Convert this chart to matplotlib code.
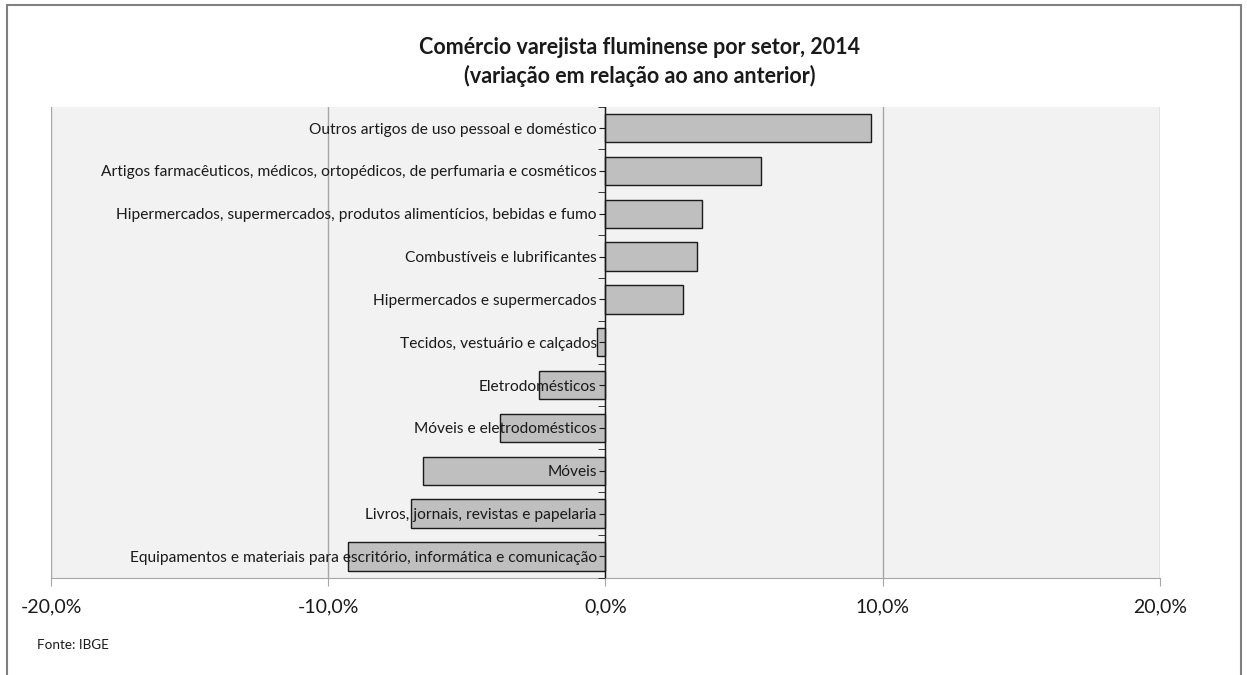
import numpy as np
import matplotlib.pyplot as plt
from matplotlib.patches import Rectangle
from matplotlib.ticker import FuncFormatter
from matplotlib.transforms import ScaledTranslation

plt.rcParams['font.family'] = ['Lato', 'DejaVu Sans']

setores = [
    'Equipamentos e materiais para escritório, informática e comunicação',
    'Livros, jornais, revistas e papelaria',
    'Móveis',
    'Móveis e eletrodomésticos',
    'Eletrodomésticos',
    'Tecidos, vestuário e calçados',
    'Hipermercados e supermercados',
    'Combustíveis e lubrificantes',
    'Hipermercados, supermercados, produtos alimentícios, bebidas e fumo',
    'Artigos farmacêuticos, médicos, ortopédicos, de perfumaria e cosméticos',
    'Outros artigos de uso pessoal e doméstico',
]
variacao = [-9.3, -7.0, -6.6, -3.8, -2.4, -0.3, 2.8, 3.3, 3.5, 5.6, 9.6]
x_ticks = [-20, -10, 0, 10, 20]

fig = plt.figure(figsize=(12.47, 6.75), dpi=100)
ax = fig.add_axes([0.041, 0.144, 0.889, 0.698])

y = np.arange(len(setores))
ax.barh(y, variacao, height=0.66, color='#bfbfbf', edgecolor='#1a1a1a',
        linewidth=1.0, zorder=2)

ax.set_facecolor('#f2f2f2')
ax.set_xlim(-20, 20)
ax.set_ylim(-0.5, len(setores) - 0.5)
ax.set_xticks(x_ticks)
ax.xaxis.set_major_formatter(FuncFormatter(lambda v, p: f'{v:.1f}%'.replace('.', ',')))
ax.tick_params(axis='x', length=6, color='#a6a6a6', labelsize=14, pad=9,
               labelcolor='#1a1a1a')
ax.grid(axis='x', color='#a6a6a6', linewidth=1.0, zorder=1)

for s in ['top', 'right', 'left']:
    ax.spines[s].set_visible(False)
ax.spines['bottom'].set_color('#a6a6a6')

# category axis sits at zero with labels on its left, drawn over the bars
ax.set_yticks(y)
ax.set_yticklabels(setores)
ax.tick_params(axis='y', length=4, color='#1a1a1a', labelsize=11.2, pad=2,
               labelcolor='#1a1a1a')
ax.set_yticks(np.arange(len(setores) + 1) - 0.5, minor=True)
ax.tick_params(axis='y', which='minor', length=5, color='#1a1a1a')
ax.yaxis.set_zorder(5)
ax.axvline(0, color='#1a1a1a', linewidth=1.0, zorder=4)
shift = ScaledTranslation((605 - 51) / 100, 0, fig.dpi_scale_trans)
for lab in ax.get_yticklabels():
    lab.set_transform(lab.get_transform() + shift)
for t in ax.yaxis.get_major_ticks() + ax.yaxis.get_minor_ticks():
    t.tick1line.set_transform(t.tick1line.get_transform() + shift)

fig.text(0.513, 0.930, 'Comércio varejista fluminense por setor, 2014',
         ha='center', va='center', fontsize=15.5, fontweight='bold', color='#1a1a1a')
fig.text(0.513, 0.888, '(variação em relação ao ano anterior)',
         ha='center', va='center', fontsize=15.5, fontweight='bold', color='#1a1a1a')
fig.text(0.030, 0.044, 'Fonte: IBGE', ha='left', va='center', fontsize=9.7,
         color='#1a1a1a')

fig.patches.append(Rectangle((0.006, -0.01), 0.989, 1.003, transform=fig.transFigure,
                             fill=False, edgecolor='#808080', linewidth=1.5))

fig.savefig('out.png', dpi=100)
